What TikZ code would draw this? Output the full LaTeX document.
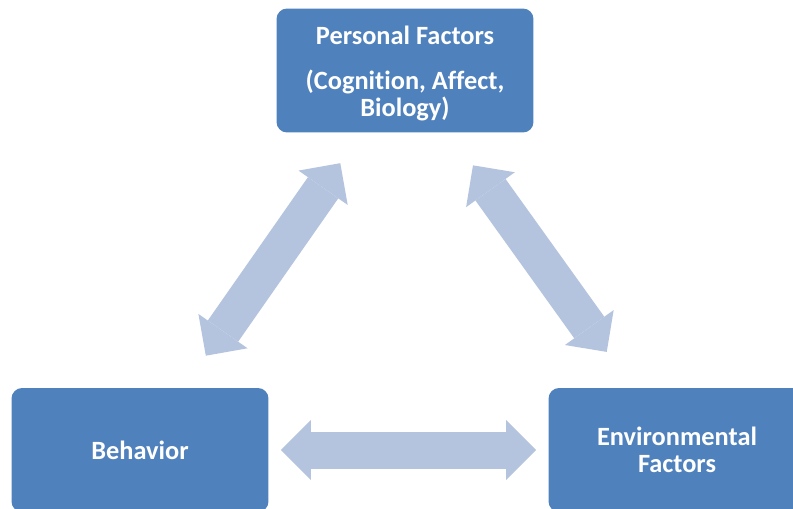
\documentclass[tikz,border=0pt]{standalone}
\usepackage{fontspec}
\setmainfont[Ligatures={NoCommon,NoRare}]{Carlito}
\usepackage{tikz}
\usetikzlibrary{arrows.meta}
\definecolor{boxblue}{HTML}{4F81BD}
\definecolor{linkblue}{HTML}{B4C3DE}
\tikzstyle{factor}=[rectangle,rounded corners=6pt,fill=boxblue,text=white,
    font=\fontsize{15}{15}\selectfont\bfseries,align=center,
    minimum width=5.14cm,minimum height=2.48cm,inner sep=0pt]
\tikzstyle{link}=[draw=linkblue,line width=0.74cm,
    {Triangle[length=0.6cm,width=1.2cm,line width=0pt]}-{Triangle[length=0.6cm,width=1.2cm,line width=0pt]}]

\begin{document}
\begin{tikzpicture}[x=0.02cm,y=0.02cm]
    \useasboundingbox (0,0) rectangle (793,508);
    % the three factors
    \node[factor] (P) at (405,437.5) {\rule{0pt}{13.4pt}Personal Factors\\[11pt](Cognition, Affect,\\Biology)};
    \node[factor] (B) at (140,58) {Behavior};
    \node[factor] (E) at (677,58) {Environmental\\Factors};
    % two-way links between them
    \foreach \source/\dest/\a/\b in {P/B/0.74/0.78, P/E/0.8/0.88, B/E/0.24/0.24}
        \path[link,shorten <=\a cm,shorten >=\b cm] (\source) -- (\dest);
\end{tikzpicture}
\end{document}
